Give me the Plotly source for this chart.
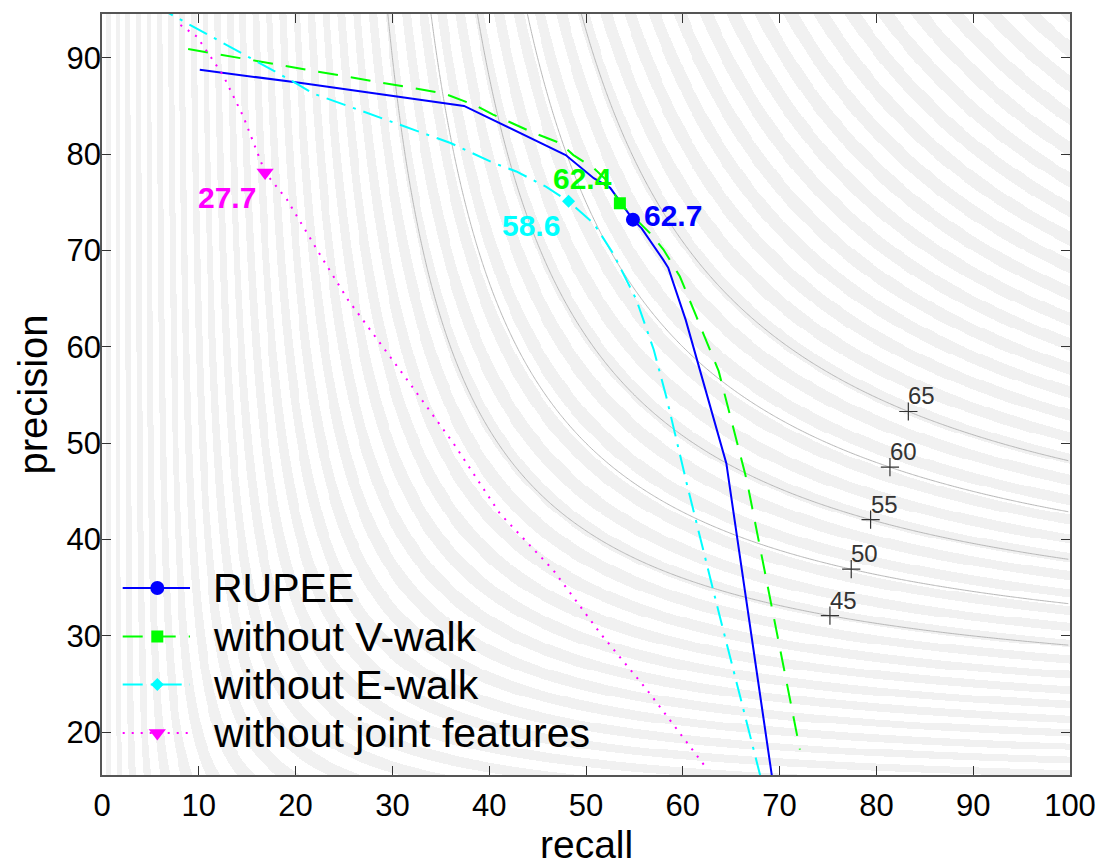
import numpy as np
import plotly.graph_objects as go

# ---------------- data ----------------
rupee_recall = [10.1, 20.4, 37.4, 47.9, 50.8, 52.5, 54.85, 55.75, 58.0, 58.5, 60.3, 64.5, 69.2]
rupee_precision = [88.75, 87.4, 85.0, 79.9, 77.5, 76.5, 73.2, 72.3, 69.0, 68.2, 62.8, 47.9, 15.5]

vwalk_recall = [8.9, 35.3, 38.7, 40.4, 44.6, 47.3, 48.7, 50.8, 52.1, 53.5, 55.2, 56.6, 58.0, 59.7, 61.4, 63.7, 66.6, 72.1]
vwalk_precision = [90.9, 86.3, 85.0, 84.1, 82.2, 81.15, 79.9, 78.55, 77.3, 74.9, 73.2, 71.8, 70.1, 67.3, 63.15, 57.5, 46.2, 18.2]

ewalk_recall = [5.5, 19.8, 21.8, 36.0, 40.4, 42.8, 45.9, 48.2, 50.8, 52.8, 55.2, 57.0, 58.3, 60.4, 63.7, 68.0]
ewalk_precision = [95.4, 87.5, 86.3, 81.15, 79.1, 78.2, 76.6, 75.1, 72.8, 69.7, 64.9, 59.7, 54.8, 45.85, 32.5, 15.5]

joint_recall = [8.1, 9.8, 12.5, 14.6, 16.85, 19.1, 22.5, 25.4, 31.8, 36.3, 41.1, 46.6, 51.45, 56.3, 62.5]
joint_precision = [93.4, 92.2, 88.2, 83.9, 78.1, 75.3, 69.6, 64.9, 56.2, 50.0, 42.7, 36.85, 30.3, 24.4, 16.2]

series_names = ["RUPEE", "without V-walk", "without E-walk", "without joint features"]
best_recall = [54.85, 53.5, 48.2, 16.85]
best_precision = [73.2, 74.9, 75.1, 78.1]
best_labels = ["62.7", "62.4", "58.6", "27.7"]

iso_levels = [45, 50, 55, 60, 65]
iso_label_recall = [75.2, 77.4, 79.4, 81.4, 83.3]

x_ticks = [0, 10, 20, 30, 40, 50, 60, 70, 80, 90, 100]
y_ticks = [20, 30, 40, 50, 60, 70, 80, 90]
x_title = "recall"
y_title = "precision"

# ---------------- styles ----------------
colors = ["#0000ff", "#00ff00", "#00ffff", "#ff00ff"]
dashes = ["solid", "20px,13px", "20px,8px,3px,8px", "2px,7px"]
symbols = ["circle", "square", "diamond", "triangle-down"]
msizes = [14, 12, 10, 15]
label_shift = [(40, 4), (-37, 25), (-38, -24), (-38, -25)]
FONT = "Liberation Sans, Arial, Helvetica, sans-serif"

XR = [0, 100]
YR = [15.57, 94.54]

fig = go.Figure()

# background stripes of the F-measure
gx = np.arange(0.05, 100.0, 0.1)
gy = np.arange(15.45, 94.7, 0.1)
RR, PP = np.meshgrid(gx, gy)
FF = 2 * RR * PP / (RR + PP)
stripes = (np.floor(FF - 0.7).astype(np.int64) % 2 == 0).astype(np.uint8)
fig.add_trace(go.Heatmap(
    x=gx, y=gy, z=stripes, zmin=0, zmax=1, showscale=False, hoverinfo="skip",
    colorscale=[[0, "#ffffff"], [0.5, "#ffffff"], [0.5, "#f1f1f1"], [1, "#f1f1f1"]],
))

# iso-F lines
cx = np.arange(0.1, 100.01, 0.25)
cy = np.arange(15.0, 95.01, 0.25)
CR, CP = np.meshgrid(cx, cy)
fig.add_trace(go.Contour(
    x=cx, y=cy, z=2 * CR * CP / (CR + CP), showscale=False, hoverinfo="skip",
    autocontour=False,
    contours=dict(start=iso_levels[0], end=iso_levels[-1], size=5, coloring="lines", showlabels=False),
    colorscale=[[0, "#b8b8b8"], [1, "#b8b8b8"]], line=dict(width=1),
))

# iso-F markers and labels
iso_R = np.array(iso_label_recall)
iso_F = np.array(iso_levels, dtype=float)
iso_P = iso_F * iso_R / (2 * iso_R - iso_F)
fig.add_trace(go.Scatter(
    x=iso_R, y=iso_P, mode="markers", hoverinfo="skip", showlegend=False,
    marker=dict(symbol="cross-thin", size=13, line=dict(width=1.2, color="#333333")),
))
for r, p, f in zip(iso_R, iso_P, iso_levels):
    fig.add_annotation(x=r, y=p, text=str(f), showarrow=False, xanchor="left", yanchor="bottom",
                       xshift=-2, yshift=0, font=dict(family=FONT, size=24, color="#333333"))

# curves
curves = [(rupee_recall, rupee_precision), (vwalk_recall, vwalk_precision),
          (ewalk_recall, ewalk_precision), (joint_recall, joint_precision)]
for i, (rx, py) in enumerate(curves):
    fig.add_trace(go.Scatter(
        x=rx, y=py, mode="lines", name=series_names[i], showlegend=False,
        line=dict(color=colors[i], width=2, dash=dashes[i]),
    ))
for i in range(4):
    fig.add_trace(go.Scatter(
        x=[best_recall[i]], y=[best_precision[i]], mode="markers", showlegend=False,
        marker=dict(symbol=symbols[i], size=msizes[i], color=colors[i], line=dict(width=0)),
    ))
    fig.add_annotation(x=best_recall[i], y=best_precision[i], text=best_labels[i], showarrow=False,
                       xanchor="center", yanchor="middle", xshift=label_shift[i][0], yshift=label_shift[i][1],
                       font=dict(family=FONT, size=30, color=colors[i], weight="bold"))

# legend drawn on a pixel-scaled overlay axis
PLOT_L, PLOT_R, PLOT_T, PLOT_B = 102, 1070, 14, 775
leg_rows = [588, 636.5, 684.5, 733]
for i in range(4):
    yrow = leg_rows[i]
    fig.add_trace(go.Scatter(
        x=[122.7, 190], y=[yrow, yrow], xaxis="x2", yaxis="y2", mode="lines", showlegend=False,
        hoverinfo="skip", line=dict(color=colors[i], width=2, dash=dashes[i]),
    ))
    fig.add_trace(go.Scatter(
        x=[157.3], y=[yrow], xaxis="x2", yaxis="y2", mode="markers", showlegend=False,
        hoverinfo="skip", marker=dict(symbol=symbols[i], size=msizes[i], color=colors[i], line=dict(width=0)),
    ))
    fig.add_annotation(x=211, y=yrow, xref="x2", yref="y2", text=series_names[i], showarrow=False,
                       xanchor="left", yanchor="middle", font=dict(family=FONT, size=41, color="#000000"))

# axis titles
fig.add_annotation(x=0.5, y=0, xref="paper", yref="paper", text=x_title, showarrow=False,
                   xanchor="center", yanchor="top", yshift=-47, borderpad=0,
                   font=dict(family=FONT, size=39, color="#000000"))
fig.add_annotation(x=0, y=0.5, xref="paper", yref="paper", text=y_title, showarrow=False,
                   textangle=-90, xanchor="center", yanchor="middle", xshift=-70,
                   font=dict(family=FONT, size=40, color="#000000"))

axis_common = dict(
    showgrid=False, zeroline=False, showline=True, linecolor="#555555", linewidth=1.5,
    mirror="ticks", ticks="inside", ticklen=9, tickwidth=1.3, tickcolor="#333333",
    tickfont=dict(family=FONT, size=31, color="#000000"), automargin=False,
)
fig.update_layout(
    width=1097, height=865,
    margin=dict(l=PLOT_L, r=1097 - PLOT_R, t=PLOT_T, b=865 - PLOT_B),
    plot_bgcolor="#ffffff", paper_bgcolor="#ffffff",
    showlegend=False,
    xaxis=dict(range=XR, tickvals=x_ticks, ticklabelstandoff=2, **axis_common),
    yaxis=dict(range=YR, tickvals=y_ticks, ticklabelstandoff=-7, **axis_common),
    xaxis2=dict(overlaying="x", range=[PLOT_L, PLOT_R], visible=False, anchor="y2"),
    yaxis2=dict(overlaying="y", range=[PLOT_B, PLOT_T], visible=False, anchor="x2"),
)

fig.write_html("out.html")
